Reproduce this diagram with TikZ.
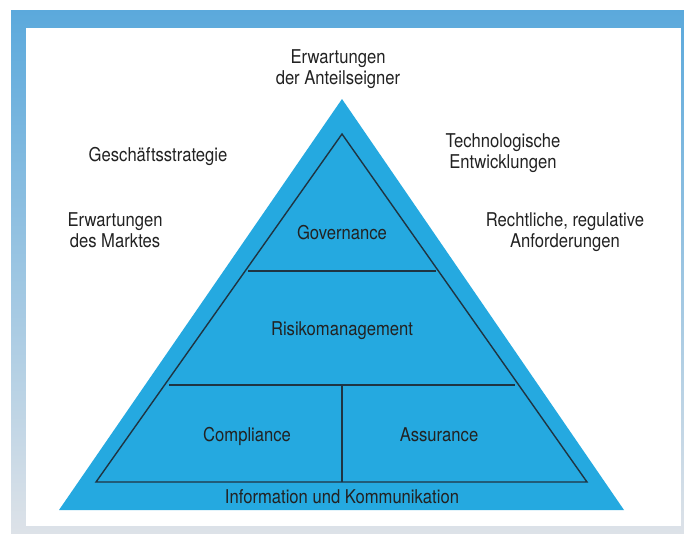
\documentclass[tikz,border=0pt]{standalone}
\usepackage{fontspec}
\setmainfont{TeX Gyre Heros}[FakeStretch=0.875]
\definecolor{frameblue}{HTML}{5BA9DC}
\definecolor{framegray}{HTML}{DDE2E8}
\definecolor{pyrblue}{HTML}{25A9E0}
\definecolor{pyrline}{HTML}{1F3442}
\definecolor{txt}{HTML}{222222}
\tikzset{
  lbl/.style={font=\fontsize{19}{21}\selectfont, text=txt, anchor=base, inner sep=0pt},
  divline/.style={draw=pyrline, line width=1.6pt},
  edgeline/.style={draw=pyrline, line width=1.4pt, line join=miter}
}
\begin{document}
\begin{tikzpicture}[x=1pt,y=-1pt]
\useasboundingbox (0,0) rectangle (684,533);
% frame
\shade[top color=frameblue, bottom color=framegray] (11,10) rectangle (684,533);
\fill[white] (26,28) rectangle (681,526);
% pyramid
\coordinate (apex) at (342,99);
\coordinate (bl) at (59,510);
\coordinate (br) at (624,510);
\fill[pyrblue] (apex) -- (bl) -- (br) -- cycle;
\coordinate (iapex) at (342,134);
\coordinate (ibl) at (96,482);
\coordinate (ibr) at (587,482);
\draw[edgeline] (iapex) -- (ibl) -- (ibr) -- cycle;
\coordinate (g1) at (248,271);
\coordinate (g2) at (436,271);
\coordinate (r1) at (169,385);
\coordinate (r2) at (515,385);
\coordinate (vb) at (342,482);
\coordinate (vt) at (342,385);
\draw[divline] (g1) -- (g2);
\draw[divline] (r1) -- (r2);
\draw[divline] (vt) -- (vb);
% labels
\node[lbl] (ea1) at (338,63) {Erwartungen};
\node[lbl] (ea2) at (338,84) {der Anteilseigner};
\node[lbl] (gs) at (158,161) {Geschäftsstrategie};
\node[lbl] (te1) at (503,147) {Technologische};
\node[lbl] (te2) at (503,168) {Entwicklungen};
\node[lbl] (em1) at (115,226) {Erwartungen};
\node[lbl] (em2) at (115,247) {des Marktes};
\node[lbl] (ra1) at (565,226) {Rechtliche, regulative};
\node[lbl] (ra2) at (565,247) {Anforderungen};
\node[lbl] (gov) at (342,239) {Governance};
\node[lbl] (risk) at (342,335) {Risikomanagement};
\node[lbl] (comp) at (247,441) {Compliance};
\node[lbl] (ass) at (439,441) {Assurance};
\node[lbl] (info) at (342,503) {Information und Kommunikation};
\end{tikzpicture}
\end{document}
